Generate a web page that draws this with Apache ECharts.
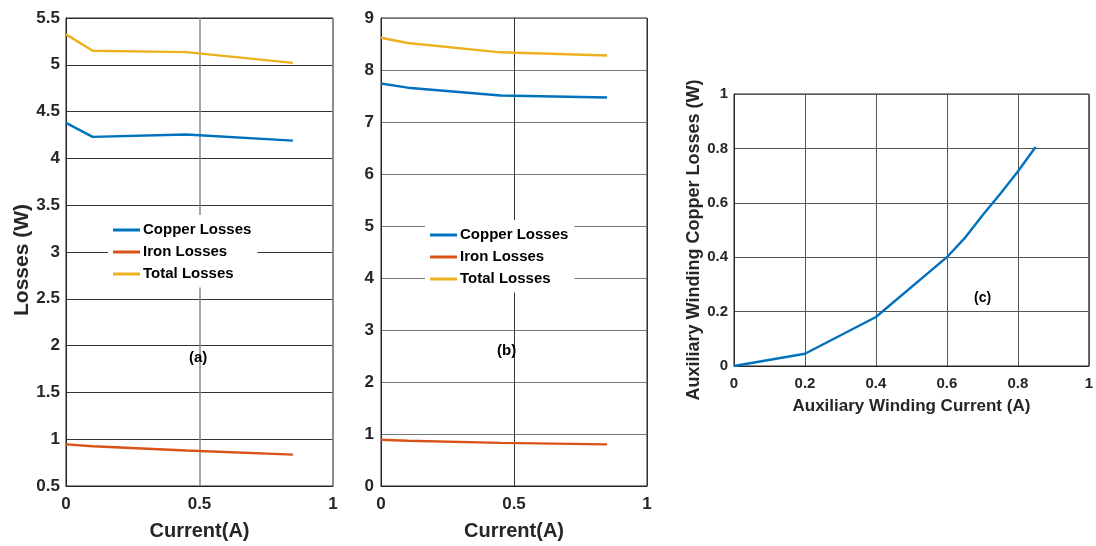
<!DOCTYPE html>
<html>
<head>
<meta charset="utf-8">
<script src="https://cdn.jsdelivr.net/npm/echarts@6/dist/echarts.min.js"></script>
<style>
  html, body { margin: 0; padding: 0; background: #fff; }
  #chart { width: 1096px; height: 546px; }
</style>
</head>
<body>
<div id="chart"></div>
<script>
// current sweep for panels (a) and (b)
const currentAB = [0, 0.1, 0.45, 0.85];
// panel (a)
const copperA = [4.38, 4.23, 4.255, 4.19];
const ironA = [0.945, 0.925, 0.88, 0.835];
const totalA = [5.325, 5.15, 5.135, 5.02];
// panel (b)
const copperB = [7.74, 7.66, 7.51, 7.47];
const ironB = [0.89, 0.87, 0.83, 0.80];
const totalB = [8.62, 8.52, 8.34, 8.28];
// panel (c)
const auxCurrent = [0, 0.2, 0.4, 0.6, 0.65, 0.7, 0.75, 0.8, 0.85];
const auxCopper = [0, 0.045, 0.18, 0.40, 0.47, 0.553, 0.632, 0.715, 0.805];

const seriesNames = ['Copper Losses', 'Iron Losses', 'Total Losses'];
const colors = ['#0072BD', '#D95319', '#EDB120'];

const FONT = 'Liberation Sans, Arial, sans-serif';
const TXT = '#262626';

function pairs(xs, ys) {
  return xs.map((x, i) => [x, ys[i]]);
}

function lineSeries(name, idx, data, color) {
  return {
    name: name,
    type: 'line',
    xAxisIndex: idx,
    yAxisIndex: idx,
    data: data,
    symbol: 'none',
    color: color,
    lineStyle: { width: 2.4, color: color },
    animation: false
  };
}

function valueAxis(idx, opts) {
  return Object.assign({
    type: 'value',
    gridIndex: idx,
    axisLine: { show: true, lineStyle: { color: TXT, width: 1 } },
    axisTick: { show: false },
    axisLabel: { color: TXT, fontFamily: FONT, fontWeight: 'bold', fontSize: 17 },
    nameLocation: 'middle',
    nameTextStyle: { color: TXT, fontFamily: FONT, fontWeight: 'bold', fontSize: 19 }
  }, opts);
}

// legend with plain line icons on a white box
function legendFor(left, top) {
  return {
    data: seriesNames,
    orient: 'vertical',
    left: left,
    top: top,
    padding: [7.5, 6, 6, 5],
    backgroundColor: '#fff',
    icon: 'rect',
    itemWidth: 27,
    itemHeight: 3,
    itemGap: 7,
    selectedMode: false,
    textStyle: { color: '#000', fontFamily: FONT, fontWeight: 'bold', fontSize: 15, padding: [0, 0, 0, -2] }
  };
}

const gridBox = { show: true, borderColor: TXT, borderWidth: 1, backgroundColor: 'transparent' };

const chart = echarts.init(document.getElementById('chart'), null, { renderer: 'canvas' });

const option = {
  animation: false,
  backgroundColor: '#fff',
  grid: [
    Object.assign({ left: 66, top: 18, width: 267, height: 470 }, gridBox),
    Object.assign({ left: 381, top: 18, width: 266, height: 470 }, gridBox),
    Object.assign({ left: 734, top: 94, width: 358, height: 272 }, gridBox)
  ],
  legend: [legendFor(108, 215), legendFor(425, 220)],
  xAxis: [
    valueAxis(0, {
      min: 0, max: 1, interval: 0.5,
      name: 'Current(A)', nameGap: 35,
      axisLabel: { color: TXT, fontFamily: FONT, fontWeight: 'bold', fontSize: 17, margin: 10 },
      nameTextStyle: { color: TXT, fontFamily: FONT, fontWeight: 'bold', fontSize: 20 },
      splitLine: { show: true, lineStyle: { color: '#8a8a8a', width: 1.5 } }
    }),
    valueAxis(1, {
      min: 0, max: 1, interval: 0.5,
      name: 'Current(A)', nameGap: 35,
      axisLabel: { color: TXT, fontFamily: FONT, fontWeight: 'bold', fontSize: 17, margin: 10 },
      nameTextStyle: { color: TXT, fontFamily: FONT, fontWeight: 'bold', fontSize: 20 },
      splitLine: { show: true, lineStyle: { color: '#333', width: 1 } }
    }),
    valueAxis(2, {
      min: 0, max: 1, interval: 0.2,
      name: 'Auxiliary Winding Current (A)', nameGap: 32,
      axisLabel: { color: TXT, fontFamily: FONT, fontWeight: 'bold', fontSize: 15, margin: 10 },
      nameTextStyle: { color: TXT, fontFamily: FONT, fontWeight: 'bold', fontSize: 17 },
      splitLine: { show: true, lineStyle: { color: '#555', width: 1 } }
    })
  ],
  yAxis: [
    valueAxis(0, {
      min: 0.5, max: 5.5, interval: 0.5,
      name: 'Losses (W)', nameGap: 33,
      axisLabel: { color: TXT, fontFamily: FONT, fontWeight: 'bold', fontSize: 17, margin: 6 },
      nameTextStyle: { color: TXT, fontFamily: FONT, fontWeight: 'bold', fontSize: 21, padding: [0, 16, 0, 0] },
      splitLine: { show: true, lineStyle: { color: '#333', width: 1 } }
    }),
    valueAxis(1, {
      min: 0, max: 9, interval: 1,
      axisLabel: { color: TXT, fontFamily: FONT, fontWeight: 'bold', fontSize: 17, margin: 7 },
      splitLine: { show: true, lineStyle: { color: '#777', width: 1.2 } }
    }),
    valueAxis(2, {
      min: 0, max: 1, interval: 0.2,
      name: 'Auxiliary Winding Copper Losses (W)', nameGap: 30,
      axisLabel: { color: TXT, fontFamily: FONT, fontWeight: 'bold', fontSize: 15, margin: 6 },
      nameTextStyle: { color: TXT, fontFamily: FONT, fontWeight: 'bold', fontSize: 18, padding: [0, 20, 0, 0] },
      splitLine: { show: true, lineStyle: { color: '#555', width: 1 } }
    })
  ],
  graphic: [
    { type: 'text', left: 189, top: 350, z: 100,
      style: { text: '(a)', fill: '#000', font: 'bold 15px ' + FONT } },
    { type: 'text', left: 497, top: 343, z: 100,
      style: { text: '(b)', fill: '#000', font: 'bold 15px ' + FONT } },
    { type: 'text', left: 974, top: 291, z: 100,
      style: { text: '(c)', fill: '#000', font: 'bold 14px ' + FONT } }
  ],
  series: [
    lineSeries(seriesNames[0], 0, pairs(currentAB, copperA), colors[0]),
    lineSeries(seriesNames[1], 0, pairs(currentAB, ironA), colors[1]),
    lineSeries(seriesNames[2], 0, pairs(currentAB, totalA), colors[2]),
    lineSeries(seriesNames[0], 1, pairs(currentAB, copperB), colors[0]),
    lineSeries(seriesNames[1], 1, pairs(currentAB, ironB), colors[1]),
    lineSeries(seriesNames[2], 1, pairs(currentAB, totalB), colors[2]),
    lineSeries('Aux Copper Losses', 2, pairs(auxCurrent, auxCopper), colors[0])
  ]
};

chart.setOption(option);
</script>
</body>
</html>
